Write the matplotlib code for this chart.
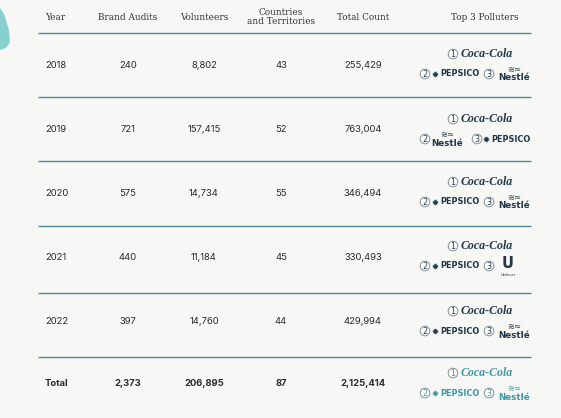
import matplotlib
matplotlib.use("Agg")
import matplotlib.pyplot as plt
from matplotlib.patches import Polygon, Circle

headers = ["Year", "Brand Audits", "Volunteers", "Countries\nand Territories", "Total Count", "Top 3 Polluters"]
years = ["2018", "2019", "2020", "2021", "2022", "Total"]
brand_audits = ["240", "721", "575", "440", "397", "2,373"]
volunteers = ["8,802", "157,415", "14,734", "11,184", "14,760", "206,895"]
countries = ["43", "52", "55", "45", "44", "87"]
total_count = ["255,429", "763,004", "346,494", "330,493", "429,994", "2,125,414"]
polluters = [
    ["Coca-Cola", "PepsiCo", "Nestlé"],
    ["Coca-Cola", "Nestlé", "PepsiCo"],
    ["Coca-Cola", "PepsiCo", "Nestlé"],
    ["Coca-Cola", "PepsiCo", "Unilever"],
    ["Coca-Cola", "PepsiCo", "Nestlé"],
    ["Coca-Cola", "PepsiCo", "Nestlé"],
]

W, H = 561, 418
fig = plt.figure(figsize=(W / 100, H / 100), dpi=100)
fig.patch.set_facecolor("#f7f7f5")
ax = fig.add_axes([0, 0, 1, 1])
ax.set_xlim(0, W)
ax.set_ylim(H, 0)
ax.axis("off")

# teal blob at top-left
ax.add_patch(Polygon([[0, 8], [4, 14], [9, 30], [10, 42], [6, 48], [0, 50]],
                     closed=True, color="#86d0cf", lw=0))

serif = "DejaVu Serif"
sans = "Inter"
dark = "#2b2b2b"
logo_dark = "#1f3847"
logo_teal = "#3e98a6"
line_col = "#4a8795"

col_x = [45, 128, 204, 281, 363, 485]
header_y = 17
ax.text(col_x[0], header_y, headers[0], ha="left", va="center", fontsize=6.4,
        family=serif, color="#333333")
for x, h in zip(col_x[1:], headers[1:]):
    ax.text(x, header_y, h, ha="center", va="center", fontsize=6.4, family=serif,
            color="#333333", linespacing=1.0)

line_ys = [32.5, 97, 161, 226, 293, 357]
for y in line_ys:
    ax.plot([38, 531], [y, y], color=line_col, lw=1.0, solid_capstyle="butt")

row_y = [65, 130, 193, 257, 322, 384]


def circ_num(x, y, n, color):
    ax.add_patch(Circle((x, y), 4.8, facecolor="white", edgecolor="#7f9096", lw=0.7))
    ax.text(x, y + 0.3, str(n), ha="center", va="center", fontsize=5.8, color=color,
            family="DejaVu Sans")


def logo(name, x, y, color):
    # x = left edge of logo
    if name == "Coca-Cola":
        ax.text(x, y, "Coca-Cola", ha="left", va="center", fontsize=8.6,
                family="Liberation Serif", style="italic", weight="bold", color=color)
    elif name == "PepsiCo":
        ax.scatter([x + 3.5], [y], s=26, marker=(12, 1, 0), color=color, lw=0)
        ax.text(x + 8.5, y, "PEPSICO", ha="left", va="center", fontsize=5.9,
                family="DejaVu Sans", weight="bold", color=color)
    elif name == "Nestlé":
        ax.text(x + 14, y - 5, "≋≈", ha="center", va="center", fontsize=6,
                family="DejaVu Sans", color=color)
        ax.text(x + 14, y + 3, "Nestlé", ha="center", va="center", fontsize=6.3,
                family="DejaVu Sans", weight="bold", color=color)
    elif name == "Unilever":
        ax.text(x + 8, y - 3, "U", ha="center", va="center", fontsize=10.5,
                family="DejaVu Sans", weight="bold", color=color)
        ax.text(x + 8, y + 8.5, "Unilever", ha="center", va="center", fontsize=2.6,
                family="DejaVu Sans", color=color)


for i, ry in enumerate(row_y):
    is_total = i == len(row_y) - 1
    w = "bold" if is_total else "normal"
    vals = [years[i], brand_audits[i], volunteers[i], countries[i], total_count[i]]
    ax.text(col_x[0], ry, vals[0], ha="left", va="center", fontsize=6.8,
            family=sans, weight=w, color=dark)
    for x, v in zip(col_x[1:5], vals[1:]):
        ax.text(x, ry, v, ha="center", va="center", fontsize=6.8, family=sans,
                weight=w, color=dark)

    color = logo_teal if is_total else logo_dark
    p1, p2, p3 = polluters[i]
    y1 = ry - 11
    y2 = ry + 9
    circ_num(453, y1, 1, color)
    logo(p1, 461, y1, color)
    # second line
    circ_num(425, y2, 2, color)
    if p2 == "Nestlé":
        logo(p2, 433, y2 + 1, color)
        circ_num(477, y2, 3, color)
        logo(p3, 483, y2, color)
    else:
        logo(p2, 432, y2, color)
        circ_num(489, y2, 3, color)
        logo(p3, 500, y2 + 1, color)

fig.savefig("out.png", dpi=100, facecolor=fig.get_facecolor())
